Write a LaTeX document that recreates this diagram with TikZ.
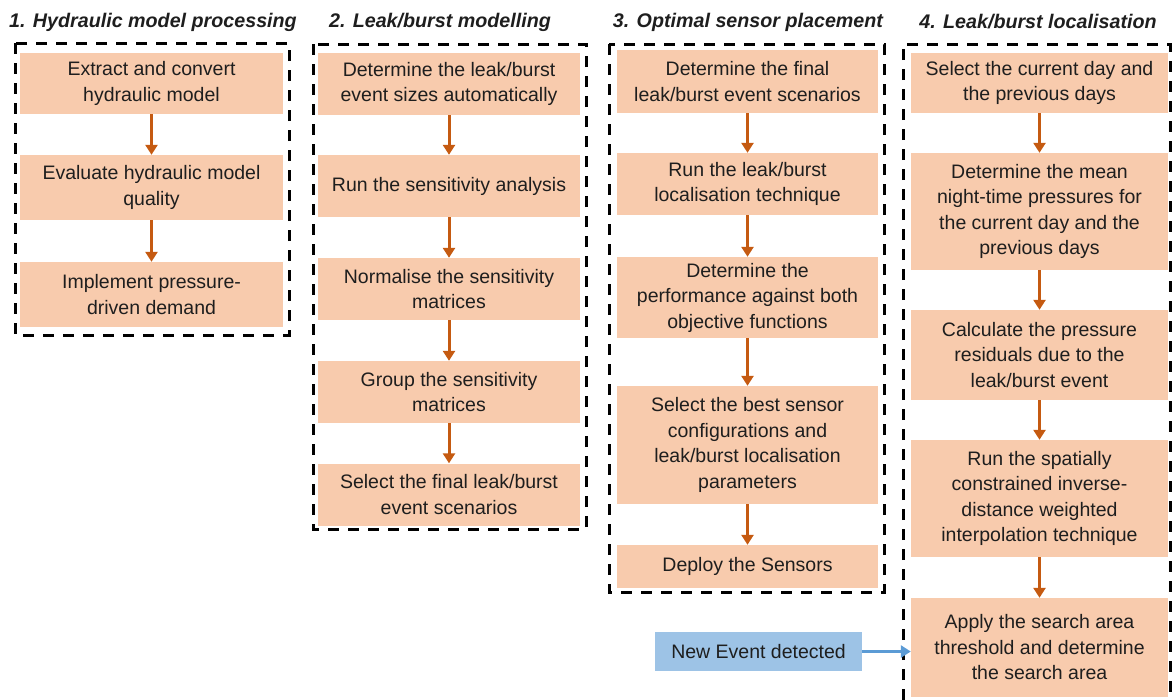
\documentclass[tikz,border=0pt]{standalone}
\usepackage{fontspec}
\setmainfont{Liberation Sans}
\usetikzlibrary{arrows.meta}
\definecolor{boxfill}{HTML}{F8CBAD}
\definecolor{flowarrow}{HTML}{C55A11}
\definecolor{eventfill}{HTML}{9DC3E6}
\definecolor{eventarrow}{HTML}{5B9BD5}
\definecolor{ink}{HTML}{1E1E1E}
\tikzset{
  stepbox/.style={fill=boxfill, draw=none, text=ink, align=center, inner sep=0pt,
    font=\fontsize{19.5}{25.5}\selectfont},
  eventbox/.style={fill=eventfill, draw=none, text=ink, align=center, inner sep=0pt,
    font=\fontsize{19.5}{25.5}\selectfont},
  stage/.style={draw=black, line width=3pt, dash pattern=on 11pt off 9pt},
  stagetitle/.style={text=ink, font=\fontsize{19.7}{23}\selectfont\bfseries\itshape},
  flow/.style={draw=flowarrow, line width=3pt, -{Triangle[length=10pt,width=12pt]}},
  trigger/.style={draw=eventarrow, line width=3pt, -{Triangle[length=10pt,width=12pt]}}
}
\begin{document}
\begin{tikzpicture}[x=1pt,y=-1pt]
\useasboundingbox (0,0) rectangle (1174,699);

% stage frames
\draw[stage] (15,43) rectangle (289,335);
\draw[stage] (313,44) rectangle (586,529);
\draw[stage] (609,44) rectangle (884,592);
\draw[stage] (903,720) -- (903,44) -- (1170,44) -- (1170,720);

% stage titles
\node[stagetitle] (t1) at (153,22) {1. Hydraulic model processing};
\node[stagetitle] (t2) at (440,22) {2. Leak/burst modelling};
\node[stagetitle] (t3) at (748,22) {3. Optimal sensor placement};
\node[stagetitle] (t4) at (1038,22) {4. Leak/burst localisation};

% stage 1
\node[stepbox, minimum width=263pt, minimum height=61pt] (a1) at (151.5,83.5)
  {Extract and convert\\hydraulic model};
\node[stepbox, minimum width=263pt, minimum height=65pt] (a2) at (151.5,187.5)
  {Evaluate hydraulic model\\quality};
\node[stepbox, minimum width=263pt, minimum height=65pt] (a3) at (151.5,294.5)
  {Implement pressure-\\driven demand};

% stage 2
\node[stepbox, minimum width=262pt, minimum height=62pt] (b1) at (449,84)
  {Determine the leak/burst\\event sizes automatically};
\node[stepbox, minimum width=262pt, minimum height=62pt] (b2) at (449,186)
  {Run the sensitivity analysis};
\node[stepbox, minimum width=262pt, minimum height=62pt] (b3) at (449,289)
  {Normalise the sensitivity\\matrices};
\node[stepbox, minimum width=262pt, minimum height=62pt] (b4) at (449,392)
  {Group the sensitivity\\matrices};
\node[stepbox, minimum width=262pt, minimum height=62pt] (b5) at (449,494.5)
  {Select the final leak/burst\\event scenarios};

% stage 3
\node[stepbox, minimum width=261pt, minimum height=63pt] (c1) at (747.5,81.5)
  {Determine the final\\leak/burst event scenarios};
\node[stepbox, minimum width=261pt, minimum height=62pt] (c2) at (747.5,184)
  {Run the leak/burst\\localisation technique};
\node[stepbox, minimum width=261pt, minimum height=81pt] (c3) at (747.5,297.5)
  {Determine the\\performance against both\\objective functions};
\node[stepbox, minimum width=261pt, minimum height=118pt] (c4) at (747.5,445)
  {Select the best sensor\\configurations and\\leak/burst localisation\\parameters};
\node[stepbox, minimum width=261pt, minimum height=43pt] (c5) at (747.5,566.5)
  {Deploy the Sensors};

% stage 4
\node[stepbox, minimum width=257pt, minimum height=60pt] (d1) at (1039.5,83)
  {Select the current day and\\the previous days};
\node[stepbox, minimum width=257pt, minimum height=117pt] (d2) at (1039.5,211.5)
  {Determine the mean\\night-time pressures for\\the current day and the\\previous days};
\node[stepbox, minimum width=257pt, minimum height=90pt] (d3) at (1039.5,355)
  {Calculate the pressure\\residuals due to the\\leak/burst event};
\node[stepbox, minimum width=257pt, minimum height=117pt] (d4) at (1039.5,498.5)
  {Run the spatially\\constrained inverse-\\distance weighted\\interpolation technique};
\node[stepbox, minimum width=257pt, minimum height=99pt] (d5) at (1039.5,647.5)
  {Apply the search area\\threshold and determine\\the search area};

% trigger
\node[eventbox, minimum width=207pt, minimum height=39pt] (e) at (758.5,651.5)
  {New Event detected};

% connectors
\draw[flow] (a1) -- (a2);
\draw[flow] (a2) -- (a3);
\draw[flow] (b1) -- (b2);
\draw[flow] (b2) -- (b3);
\draw[flow] (b3) -- (b4);
\draw[flow] (b4) -- (b5);
\draw[flow] (c1) -- (c2);
\draw[flow] (c2) -- (c3);
\draw[flow] (c3) -- (c4);
\draw[flow] (c4) -- (c5);
\draw[flow] (d1) -- (d2);
\draw[flow] (d2) -- (d3);
\draw[flow] (d3) -- (d4);
\draw[flow] (d4) -- (d5);
\draw[trigger] (e.east) -- (e.east -| d5.west);
\end{tikzpicture}
\end{document}
